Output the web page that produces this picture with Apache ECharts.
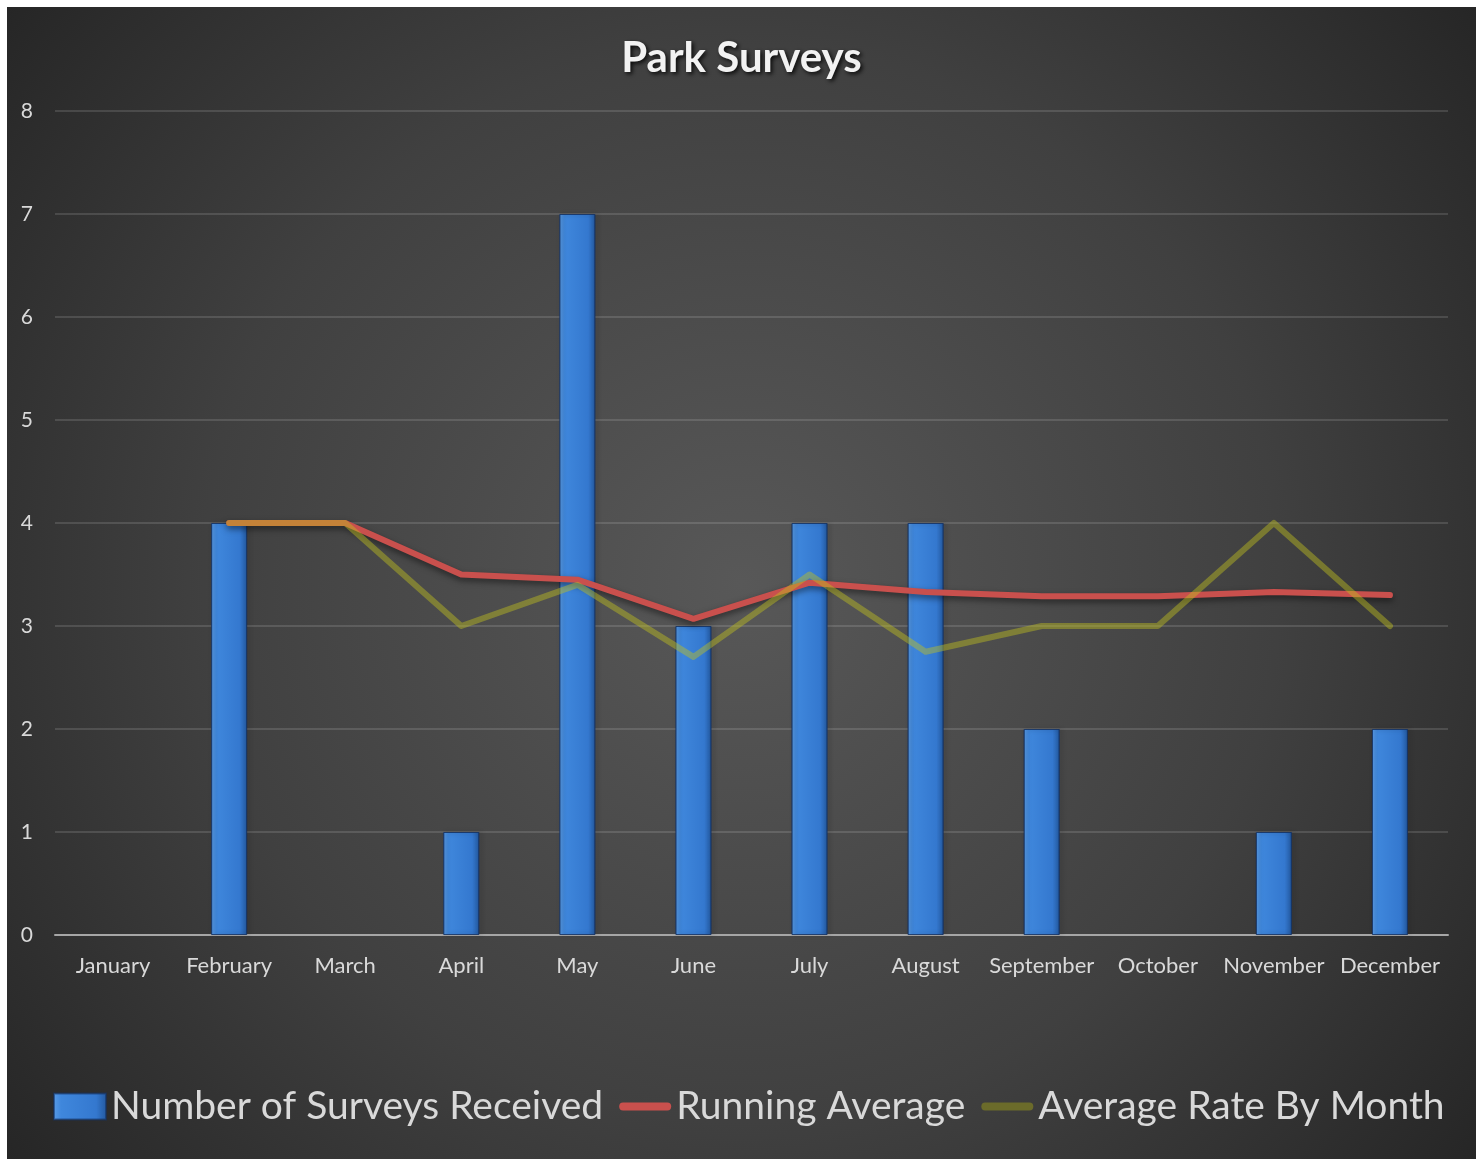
<!DOCTYPE html>
<html>
<head>
<meta charset="utf-8">
<script src="https://cdn.jsdelivr.net/npm/echarts@6/dist/echarts.min.js"></script>
<style>
html,body{margin:0;padding:0;background:#ffffff;}
#chart{position:absolute;left:7px;top:7px;width:1469px;height:1152px;}
</style>
</head>
<body>
<div id="chart"></div>
<script>
var months = ['January','February','March','April','May','June','July','August','September','October','November','December'];
var surveysReceived = [0, 4, 0, 1, 7, 3, 4, 4, 2, 0, 1, 2];
var runningAverage = [null, 4, 4, 3.5, 3.45, 3.07, 3.42, 3.33, 3.29, 3.29, 3.33, 3.3];
var averageRateByMonth = [null, 4, 4, 3, 3.4, 2.7, 3.5, 2.75, 3, 3, 4, 3];
var yTicks = [0, 1, 2, 3, 4, 5, 6, 7, 8];

var FONT = 'Lato, "Open Sans", sans-serif';
var chart = echarts.init(document.getElementById('chart'));

var barColor = {
  type: 'linear', x: 0, y: 0, x2: 1, y2: 0,
  colorStops: [
    {offset: 0, color: '#5a9ce6'},
    {offset: 0.15, color: '#3f87dc'},
    {offset: 0.8, color: '#3478cf'},
    {offset: 1, color: '#23589e'}
  ]
};

var barData = surveysReceived.map(function (v) {
  return v === 0 ? {value: v, itemStyle: {opacity: 0}} : v;
});

var lineIcon = 'path://M4.5,0 H55.5 A4.5,4.5 0 0 1 55.5,9 H4.5 A4.5,4.5 0 0 1 4.5,0 Z';

var option = {
  backgroundColor: {
    type: 'radial', x: 0.5, y: 0.5, r: 0.85,
    colorStops: [
      {offset: 0, color: '#585858'},
      {offset: 0.55, color: '#404040'},
      {offset: 1, color: '#232323'}
    ]
  },
  title: {
    text: 'Park Surveys',
    left: 'center',
    top: 25,
    textStyle: {
      color: '#f2f2f2',
      fontFamily: FONT,
      fontWeight: 'bold',
      fontSize: 42,
      textShadowColor: 'rgba(0,0,0,0.85)',
      textShadowBlur: 4,
      textShadowOffsetX: 2,
      textShadowOffsetY: 2
    }
  },
  grid: {left: 48, right: 28, top: 104, bottom: 224, containLabel: false},
  legend: {
    bottom: 28,
    left: 41,
    itemGap: 16,
    itemWidth: 52,
    itemHeight: 26,
    textStyle: {color: '#d9d9d9', fontFamily: FONT, fontSize: 39, padding: [0, 0, 0, 0]},
    data: [
      {name: 'Number of Surveys Received', icon: 'rect'},
      {name: 'Running Average', icon: lineIcon, itemStyle: {color: '#c9504d'}},
      {name: 'Average Rate By Month', icon: lineIcon, itemStyle: {color: '#6b6b2a'}}
    ]
  },
  xAxis: {
    type: 'category',
    data: months,
    axisLine: {show: true, lineStyle: {color: '#a6a6a6', width: 2}},
    axisTick: {show: false},
    axisLabel: {color: '#d9d9d9', fontFamily: FONT, fontSize: 22, margin: 20, interval: 0}
  },
  yAxis: {
    type: 'value',
    min: 0, max: 8, interval: 1,
    axisLine: {show: false},
    axisTick: {show: false},
    axisLabel: {color: '#d9d9d9', fontFamily: FONT, fontSize: 21, margin: 22,
      formatter: function (v) { return yTicks.indexOf(v) >= 0 ? String(v) : ''; }},
    splitLine: {lineStyle: {color: 'rgba(255,255,255,0.13)', width: 2}}
  },
  series: [
    {
      name: 'Number of Surveys Received',
      type: 'bar',
      data: barData,
      barWidth: 36,
      itemStyle: {
        color: barColor,
        borderColor: 'rgba(20,50,100,0.6)',
        borderWidth: 1,
        shadowColor: 'rgba(0,0,0,0.45)',
        shadowBlur: 4,
        shadowOffsetX: 2
      },
      z: 2
    },
    {
      name: 'Running Average',
      type: 'line',
      data: runningAverage,
      showSymbol: false,
      symbol: 'none',
      lineStyle: {
        color: '#c9504d', width: 6, cap: 'round', join: 'round',
        shadowColor: 'rgba(0,0,0,0.5)', shadowBlur: 6, shadowOffsetY: 3
      },
      itemStyle: {color: '#c9504d'},
      z: 3
    },
    {
      name: 'Average Rate By Month',
      type: 'line',
      data: averageRateByMonth,
      showSymbol: false,
      symbol: 'none',
      lineStyle: {
        color: 'rgba(190,190,30,0.45)', width: 6, cap: 'round', join: 'round'
      },
      itemStyle: {color: '#6b6b2a'},
      z: 4
    }
  ]
};
chart.setOption(option);
</script>
</body>
</html>
